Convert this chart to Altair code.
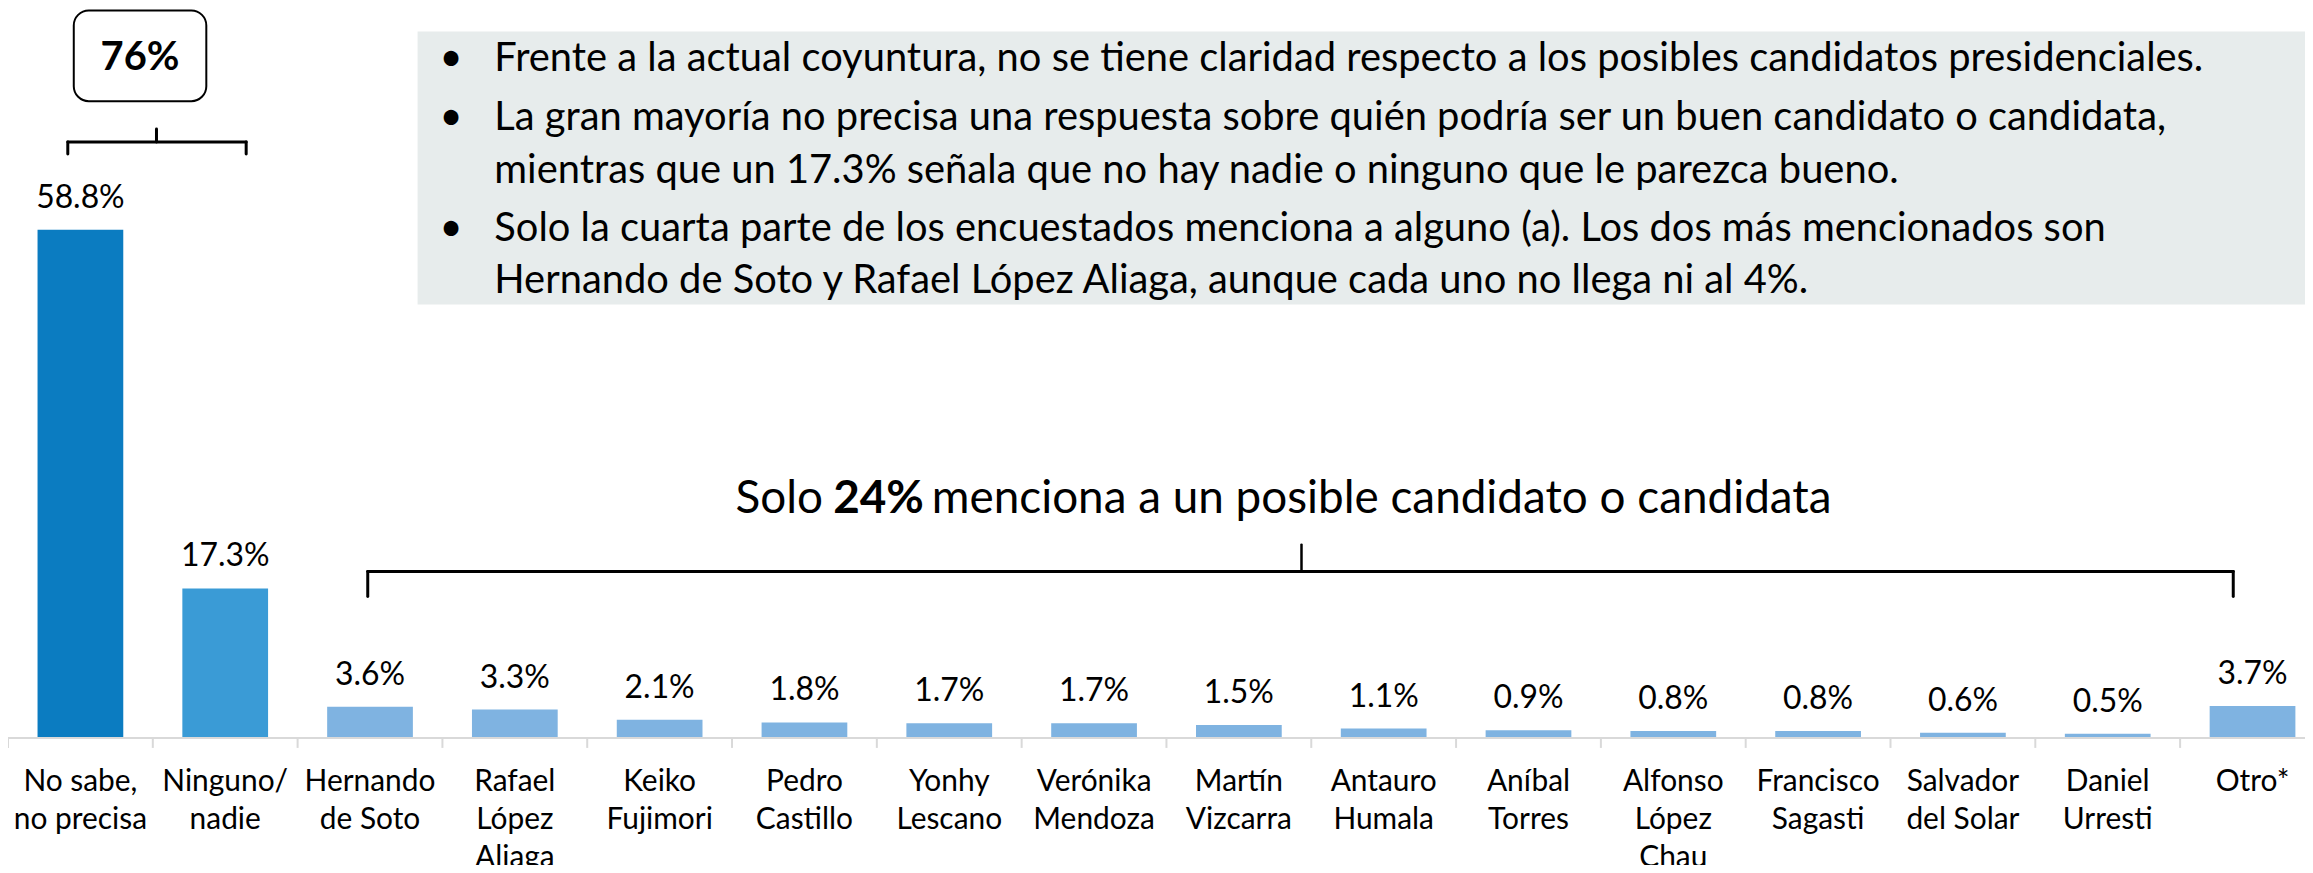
import altair as alt
import pandas as pd

# ---------------- data ----------------
categories = [
    "No sabe,\nno precisa", "Ninguno/\nnadie", "Hernando\nde Soto", "Rafael\nLópez\nAliaga",
    "Keiko\nFujimori", "Pedro\nCastillo", "Yonhy\nLescano", "Verónika\nMendoza",
    "Martín\nVizcarra", "Antauro\nHumala", "Aníbal\nTorres", "Alfonso\nLópez\nChau",
    "Francisco\nSagasti", "Salvador\ndel Solar", "Daniel\nUrresti", "Otro*",
]
values = [58.8, 17.3, 3.6, 3.3, 2.1, 1.8, 1.7, 1.7, 1.5, 1.1, 0.9, 0.8, 0.8, 0.6, 0.5, 3.7]
groups = ["No sabe", "Ninguno"] + ["Candidato"] * 14

group_names = ["No sabe", "Ninguno", "Candidato"]
group_colors = ["#0b7cc1", "#3a9bd6", "#7fb3e1"]

box_text = "76%"
title_parts = ["Solo", "24%", "menciona a un posible candidato o candidata"]
panel_lines = [
    "Frente a la actual coyuntura, no se tiene claridad respecto a los posibles candidatos presidenciales.",
    "La gran mayoría no precisa una respuesta sobre quién podría ser un buen candidato o candidata,",
    "mientras que un 17.3% señala que no hay nadie o ninguno que le parezca bueno.",
    "Solo la cuarta parte de los encuestados menciona a alguno (a). Los dos más mencionados son",
    "Hernando de Soto y Rafael López Aliaga, aunque cada uno no llega ni al 4%.",
]
panel_bullets = [True, True, False, True, False]

df = pd.DataFrame({"cat": categories, "val": values, "grp": groups})
df["lbl"] = [f"{v:.1f}%" for v in values]

FONT = "Lato"
W, H = 2305, 731

xband = alt.Scale(domain=categories, range=[0, 2325], paddingInner=0.408, paddingOuter=0.204)
yscale = alt.Scale(domain=[0, 84.28], nice=False, zero=True)
one = alt.Data(values=[{"a": 1}])


def rule(x, y, x2=None, y2=None, w=3, color="black"):
    enc = {"x": alt.value(x), "y": alt.value(y)}
    if x2 is not None:
        enc["x2"] = alt.value(x2)
    if y2 is not None:
        enc["y2"] = alt.value(y2)
    return alt.Chart(one).mark_rule(color=color, strokeWidth=w, strokeCap="round").encode(**enc)


def txt(s, x, y, size, bold=False, align="left"):
    return alt.Chart(one).mark_text(
        text=s, align=align, baseline="alphabetic", fontSize=size,
        fontWeight="bold" if bold else "normal", font=FONT, color="black",
    ).encode(x=alt.value(x), y=alt.value(y))


layers = []

# gray text panel
layers.append(alt.Chart(one).mark_rect(fill="#e7ecec").encode(
    x=alt.value(411), x2=alt.value(2340), y=alt.value(22), y2=alt.value(296)))
panel_y = [62, 121, 174, 232, 284]
for line, bul, yy in zip(panel_lines, panel_bullets, panel_y):
    if bul:
        layers.append(txt("•", 433, yy, 40))
    layers.append(txt(line, 488, yy, 40))

# 76% box
layers.append(alt.Chart(one).mark_rect(fill="white", stroke="black", strokeWidth=2, cornerRadius=15).encode(
    x=alt.value(66), x2=alt.value(199), y=alt.value(1), y2=alt.value(92)))
layers.append(txt(box_text, 132.5, 61, 40, bold=True, align="center"))

# small bracket
layers += [
    rule(60, 133, x2=239),
    rule(60, 133, y2=145),
    rule(239, 133, y2=145),
    rule(149, 120, y2=133),
]

# big bracket
layers += [
    rule(361, 564, x2=2233),
    rule(361, 564, y2=589),
    rule(2233, 564, y2=589),
    rule(1298, 537, y2=564, w=2.5),
]

# title of the bracket
layers.append(txt(title_parts[0], 730, 505, 46))
layers.append(txt(title_parts[1], 828, 505, 46, bold=True))
layers.append(txt(title_parts[2], 927, 505, 46))

base = alt.Chart(df)
xenc = alt.X("cat:N", scale=xband, axis=None, sort=categories)

bars = base.mark_bar().encode(
    x=xenc,
    y=alt.Y("val:Q", scale=yscale, axis=None),
    color=alt.Color("grp:N", scale=alt.Scale(domain=group_names, range=group_colors), legend=None),
)
vlabels = base.mark_text(baseline="alphabetic", dy=-22, fontSize=32, font=FONT, color="black").encode(
    x=xenc, y=alt.Y("val:Q", scale=yscale, axis=None), text="lbl:N")
catlabels = base.mark_text(baseline="alphabetic", lineBreak="\n", lineHeight=38, fontSize=30,
                           font=FONT, color="black").encode(
    x=xenc, y=alt.value(784), text="cat:N")
ticks = base.mark_rule(color="#d9d9d9", strokeWidth=2, xOffset=-29.65).encode(
    x=alt.X("cat:N", scale=xband, axis=None, sort=categories, bandPosition=0),
    y=alt.value(731), y2=alt.value(741))
domain = rule(0, 731, x2=2325, w=2, color="#d9d9d9")

layers += [bars, vlabels, domain, ticks, catlabels]

chart = alt.layer(*layers).properties(
    width=W, height=H,
    autosize=alt.AutoSizeParams(type="none"),
    padding={"left": 0, "top": 0, "right": 0, "bottom": 126},
    background="white",
).configure_view(stroke=None)

chart.save("out.html", embed_options={"renderer": "svg", "actions": False})
